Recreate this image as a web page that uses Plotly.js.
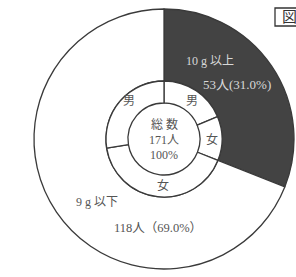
<!DOCTYPE html>
<html>
<head>
<meta charset="utf-8">
<script src="https://cdn.plot.ly/plotly-3.0.1.min.js"></script>
<style>html,body{margin:0;padding:0;background:#fff;}#chart{width:296px;height:277px;}</style>
</head>
<body>
<div id="chart"></div>
<script>
// ---- data ----
const outerLabels = ['10 g 以上', '9 g 以下'];
const outerValues = [53, 118];
const outerCounts = ['53人(31.0%)', '118人（69.0%）'];
const innerLabels = ['男', '女', '女', '男'];
const innerValues = [32, 21, 71, 47];
const totalLines = ['総 数', '171人', '100%'];

// ---- layout helpers ----
const W = 296, H = 277;
const cx = 164, cy = 139, rOut = 130, rMid = 58, rIn = 36;
const px = x => x / W;
const py = y => 1 - y / H;
const FONT = 'Liberation Serif, Noto Sans CJK JP, serif';
const lineCol = '#3a3a3a';

const outer = {
  type: 'pie', values: outerValues, labels: outerLabels, sort: false,
  direction: 'clockwise', rotation: 0, hole: rMid / rOut,
  textinfo: 'none', hoverinfo: 'none', showlegend: false,
  marker: {colors: ['#434343', '#ffffff'], line: {color: lineCol, width: 1.3}},
  domain: {x: [px(cx - rOut), px(cx + rOut)], y: [py(cy + rOut), py(cy - rOut)]}
};
const inner = {
  type: 'pie', values: innerValues, labels: innerLabels.map((l, i) => l + i), sort: false,
  direction: 'clockwise', rotation: 0, hole: rIn / rMid,
  textinfo: 'none', hoverinfo: 'none', showlegend: false,
  marker: {colors: ['#ffffff', '#ffffff', '#ffffff', '#ffffff'], line: {color: lineCol, width: 1.3}},
  domain: {x: [px(cx - rMid), px(cx + rMid)], y: [py(cy + rMid), py(cy - rMid)]}
};

function ann(text, x, y, color, size) {
  return {text: text, x: px(x), y: py(y), xref: 'paper', yref: 'paper', showarrow: false,
    xanchor: 'center', yanchor: 'middle', font: {family: FONT, size: size || 12, color: color}};
}
const light = '#d8d8d8', dark = '#555555';
const annotations = [
  ann(outerLabels[0], 210, 61, light),
  ann(outerCounts[0], 237, 85, light, 13),
  ann(outerLabels[1], 97, 202, dark),
  ann(outerCounts[1], 158, 228, dark, 12.5),
  ann(totalLines[0], 164, 125, dark),
  ann(totalLines[1], 164, 140, dark),
  ann(totalLines[2], 164, 155, dark),
  ann(innerLabels[0], 192, 101, dark),
  ann(innerLabels[1], 212, 140, dark),
  ann(innerLabels[2], 163, 186, dark),
  ann(innerLabels[3], 129, 101, dark),
  ann('図', 289, 17, '#333333', 15)
];
const shapes = [
  {type: 'rect', xref: 'paper', yref: 'paper', x0: px(275), x1: px(305), y0: py(26), y1: py(8),
   line: {color: '#333333', width: 1.3}, fillcolor: 'rgba(0,0,0,0)'}
];

Plotly.newPlot('chart', [outer, inner], {
  width: W, height: H, margin: {l: 0, r: 0, t: 0, b: 0},
  paper_bgcolor: '#ffffff', plot_bgcolor: '#ffffff',
  annotations: annotations, shapes: shapes
}, {displayModeBar: false, staticPlot: true});
</script>
</body>
</html>
